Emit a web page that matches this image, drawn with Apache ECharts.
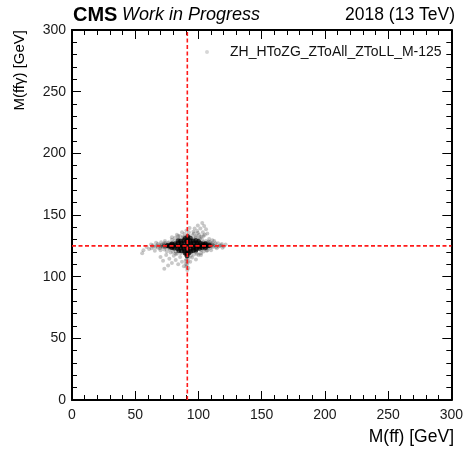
<!DOCTYPE html>
<html>
<head>
<meta charset="utf-8">
<script src="https://cdn.jsdelivr.net/npm/echarts@6/dist/echarts.min.js"></script>
<style>
  html, body { margin: 0; padding: 0; background: #fff; }
  #chart { width: 466px; height: 451px; }
</style>
</head>
<body>
<div id="chart"></div>
<script>
// Sample name shown in the legend
const sampleName = 'ZH_HToZG_ZToAll_ZToLL_M-125';

// Reference masses marked with dashed lines (GeV)
const zMass = 91.2;
const higgsMass = 125;

// Axis range and tick spacing (GeV)
const axisMin = 0;
const axisMax = 300;
const tickStep = 50;

// Dense core of events: [M(ff), M(ffγ)]
const corePoints = [
  [75.5,125.2],[77,124.7],[78,125.1],[80,124.6],[82,125.4],[84,124.8],[86,125.3],[88,124.7],[90,125.1],[92,124.9],
  [94,125.4],[96,124.6],[98,125.2],[100,124.8],[102,125.3],[104,124.9],[105.5,125.2],[107,124.8],[108.5,125.3],
  [79,125.8],[101,124.2],
  [79,126.5],[81.5,126.7],[84,127.2],[86.5,126.8],[89,127.2],[91.5,127.4],[94,126.9],[96.5,127.3],[99,126.8],
  [101.5,127.1],[103.5,126.4],[105.5,126.6],
  [79,123.6],[81,123.3],[83.5,122.9],[86,123.2],[88.5,122.8],[91,123.1],[93.5,122.7],[96,123.2],[98.5,122.9],
  [101,123.1],[103,123.6],[105.5,123.7],
  [84,129.2],[86,129],[88.5,129.3],[91,128.8],[93.5,129.2],[96,128.9],[98,129.4],[100,128.6],
  [84.5,121.2],[86.5,121],[89,120.8],[91.5,121],[94,120.7],[96,121.3],[98,121.6],
  [89.5,131],[91.5,130.8],[93.5,131.2],
  [89.5,119.2],[91,118.6],[92.5,119.3],
  [91.5,132.6],[91,117]
];

// Surrounding, sparser events: [M(ff), M(ffγ)]
const haloPoints = [
  // left wing
  [55.5,119],[56.5,121.5],[59,124],[61,122.5],[62.5,126],[64,124.5],[65.5,121],[66.5,127.5],
  [68,123.5],[69,125.5],[70,121.5],[70.5,128],[71.5,124],[72.5,126.5],[73,122],[73.5,129],
  [74.5,124.5],[75,120.5],[76,127],[76.5,123],[77,125.8],[74,126],[71,125],[67,125],[63,123],
  [64,125.5],[66,124],[68,126.5],[69.5,123],[71,126],[72,124.5],[73.5,127.5],[74,123.5],
  [75.5,125],[76.5,128],[77.5,122],[78,126.5],[75,125.5],[73,125],[70,124.5],
  // right wing
  [107,126.5],[107.5,123],[108,128.5],[109,125],[110,121.5],[110.5,127],[111.5,124],[112.5,129],
  [113,125.5],[114.5,123],[115.5,127],[117,125],[118.5,126.5],[120,124.5],[121.5,126],[108.5,130.5],[106.5,121],
  [108,125.5],[109.5,123.5],[110.5,126],[112,125],[113.5,127],[114,124],[116,124.5],[118,125.5],
  [119,123.5],[107.5,127.5],[106.5,124.5],[105.5,127],[105,123.5],[104.5,126.5],[106,129],[109,128],
  [111,129.5],[107,121.5],[107,125],[109,126.5],
  // upper right tail
  [95,133.5],[96.5,135],[98,132],[99,137],[100.5,134],[101.5,139],[102.5,132.5],[103.5,136],
  [104.5,141],[105,134],[106,138.5],[99.5,141.5],[97,139],[103,143.5],[107,135],[101,130.5],
  [98,133],[101,132],[103,130],[99.5,135.5],[104,133],[96,136.5],
  // upper left
  [79,130],[81.5,131.5],[83,134],[85.5,133],[87,136],[89,134.5],[90.5,137.5],[92.5,136],[88,131.5],[86,129.5],[93,139.5],
  [79,132],[84,133],[85,127.5],
  // lower region and tail along M(ff) = mZ
  [70,116],[72,113],[74.5,117.5],[77,114.5],[79,111],[80.5,117],[82,113.5],[84,110],[85.5,116],[87,112],
  [88.5,108.5],[90,110.5],[92,107],[93.5,112],[95,115.5],[96.5,118],[98,114],[100,117.5],[102,119],[104,120.5],
  [76,109],[73,106.5],[83,118.5],[78,119.5],[80,120],[82,118.5],[102,117.5],[99,118.5],
  [91,116],[90.5,114],[91.5,112],[91,110],[90.5,108],[91.2,105.5],[92,115],[90,113],
  // fringe around the core
  [78,125],[79,127.5],[80,122.5],[81,129],[82,120.5],[84,131],[86,119],[88,132.5],[90,117.5],[92,133],
  [94,117],[96,131],[98,120],[100,129.5],[102,121.5],[104,128],[105,122.5],[106,126],[104.5,124.5],[78.5,123.5],
  [110,124.8],[111,126.2],[73.5,124.2],[72.5,125.6]
];

const FONT = 'Liberation Sans, Arial, Helvetica, sans-serif';
const chart = echarts.init(document.getElementById('chart'), null, { renderer: 'canvas' });

function frameAxis(extra) {
  return Object.assign({
    type: 'value',
    min: axisMin,
    max: axisMax,
    interval: tickStep,
    axisLine: { show: true, onZero: false, lineStyle: { color: '#000', width: 2 } },
    axisTick: { show: true, inside: true, length: 9, lineStyle: { color: '#000', width: 1 } },
    minorTick: { show: true, splitNumber: 5, length: 5, lineStyle: { color: '#000', width: 1 } },
    splitLine: { show: false },
    axisLabel: { show: false }
  }, extra);
}

const tickLabel = { show: true, fontFamily: FONT, fontSize: 14, color: '#1a1a1a' };
const dashed = { color: '#ff1a1a', width: 1.6, type: [4, 2.5] };

function guideLine(points) {
  return {
    type: 'line',
    data: points,
    showSymbol: false,
    symbol: 'none',
    silent: true,
    z: 5,
    itemStyle: { color: '#ff1a1a' },
    lineStyle: dashed
  };
}

chart.setOption({
  animation: false,
  backgroundColor: '#fff',
  grid: { left: 72, right: 13, top: 30, bottom: 51, containLabel: false },
  xAxis: [
    frameAxis({ position: 'bottom', axisLabel: Object.assign({ margin: 8 }, tickLabel) }),
    frameAxis({ position: 'top' })
  ],
  yAxis: [
    frameAxis({ position: 'left', axisLabel: Object.assign({ margin: 6 }, tickLabel) }),
    frameAxis({ position: 'right' })
  ],
  legend: {
    data: [{ name: sampleName, icon: 'circle' }],
    left: 200, top: 40,
    itemWidth: 36, itemHeight: 4,
    textStyle: { fontFamily: FONT, fontSize: 14, color: '#111' },
    itemStyle: { color: 'rgba(0,0,0,0.2)' }
  },
  graphic: [
    { type: 'text', left: 73, top: 5, style: { text: 'CMS', font: 'bold 20px ' + FONT, fill: '#000' } },
    { type: 'text', left: 122, top: 6, style: { text: 'Work in Progress', font: 'italic 18px ' + FONT, fill: '#000' } },
    { type: 'text', right: 11, top: 6, style: { text: '2018 (13 TeV)', font: '17.5px ' + FONT, fill: '#000' } },
    { type: 'text', right: 12, top: 428, style: { text: 'M(ff) [GeV]', font: '17.5px ' + FONT, fill: '#000' } },
    { type: 'text', left: 12, top: 30, rotation: Math.PI / 2, originX: 0, originY: 0,
      style: { text: 'M(ffγ) [GeV]', font: '15px ' + FONT, fill: '#000', align: 'right', verticalAlign: 'top' } }
  ],
  series: [
    {
      name: sampleName,
      type: 'scatter',
      data: haloPoints,
      symbolSize: 4,
      itemStyle: { color: 'rgba(0,0,0,0.27)' },
      silent: true
    },
    {
      name: sampleName,
      type: 'scatter',
      data: corePoints,
      symbolSize: 5,
      itemStyle: { color: 'rgba(0,0,0,0.9)' },
      silent: true
    },
    guideLine([[zMass, axisMin], [zMass, axisMax]]),
    guideLine([[axisMin, higgsMass], [axisMax, higgsMass]])
  ]
});
</script>
</body>
</html>
